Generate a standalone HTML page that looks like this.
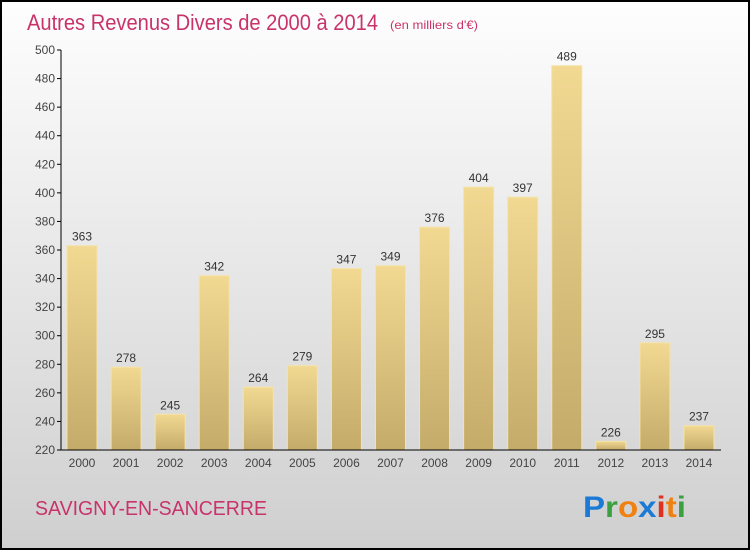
<!DOCTYPE html>
<html><head><meta charset="utf-8"><style>
html,body{margin:0;padding:0;}
body{width:750px;height:550px;overflow:hidden;font-family:"Liberation Sans",sans-serif;}
</style></head><body>
<svg width="750" height="550" viewBox="0 0 750 550">
<defs>
<linearGradient id="bg" x1="0" y1="0" x2="0" y2="1"><stop offset="0" stop-color="#fefefe"/><stop offset="1" stop-color="#cfcfcf"/></linearGradient>
<linearGradient id="bar" x1="0" y1="0" x2="0" y2="1"><stop offset="0" stop-color="#f2d992"/><stop offset="1" stop-color="#c4ab6a"/></linearGradient>
</defs>
<rect x="1" y="1" width="748" height="548" fill="url(#bg)" stroke="#000" stroke-width="2"/>
<text x="27" y="30" font-size="22" fill="#c8336a" textLength="351" lengthAdjust="spacingAndGlyphs">Autres Revenus Divers de 2000 à 2014</text>
<text x="390" y="29" font-size="12" fill="#c8336a" textLength="88" lengthAdjust="spacingAndGlyphs">(en milliers d'€)</text>
<g id="yaxis"></g>
<g id="bars"></g>
<g id="xaxis"></g>
<text x="35" y="515" font-size="20" fill="#c8336a" textLength="232" lengthAdjust="spacingAndGlyphs">SAVIGNY-EN-SANCERRE</text>
<text x="583" y="517" font-size="30" font-weight="bold" textLength="103" lengthAdjust="spacingAndGlyphs"><tspan fill="#1a7ad6">P</tspan><tspan fill="#3aa040">r</tspan><tspan fill="#f08010">o</tspan><tspan fill="#1a7ad6">x</tspan><tspan fill="#e03020">i</tspan><tspan fill="#f08010">t</tspan><tspan fill="#3aa040">i</tspan></text>
</svg>
<script>
const years=["2000","2001","2002","2003","2004","2005","2006","2007","2008","2009","2010","2011","2012","2013","2014"];
const values=[363,278,245,342,264,279,347,349,376,404,397,489,226,295,237];
const yTicks=[220,240,260,280,300,320,340,360,380,400,420,440,460,480,500];
const NS="http://www.w3.org/2000/svg";
function y(v){return 450-(v-220)*400/280;}
function x(i){return 82+i*44.07;}
function mk(t,a,p){const e=document.createElementNS(NS,t);for(const k in a)e.setAttribute(k,a[k]);p.appendChild(e);return e;}
const ya=document.getElementById('yaxis'),ba=document.getElementById('bars'),xa=document.getElementById('xaxis');
mk('line',{x1:61,y1:50,x2:61,y2:450,stroke:'#000','stroke-width':1},ya);
yTicks.forEach(v=>{
 const l=mk('line',{x1:57,y1:y(v),x2:61,y2:y(v),stroke:'#000'},ya);
 
 
 const t=mk('text',{x:55,y:y(v)+4,'font-size':12,fill:'#444','text-anchor':'end'},ya);t.textContent=v;
 
 
});
values.forEach((v,i)=>{
 const r=mk('rect',{x:x(i)-15,y:y(v),width:30,height:450-y(v),fill:'url(#bar)',stroke:'#f5e3a8','stroke-width':1},ba);
 
 
 const t=mk('text',{x:x(i),y:y(v)-5,'font-size':12,fill:'#333','text-anchor':'middle'},ba);t.textContent=v;
 
 
 const xl=mk('text',{x:x(i),y:467,'font-size':12,fill:'#444','text-anchor':'middle'},xa);xl.textContent=years[i];
 
 
});
mk('line',{x1:61,y1:450,x2:721,y2:450,stroke:'#000'},xa);
</script>
</body></html>
